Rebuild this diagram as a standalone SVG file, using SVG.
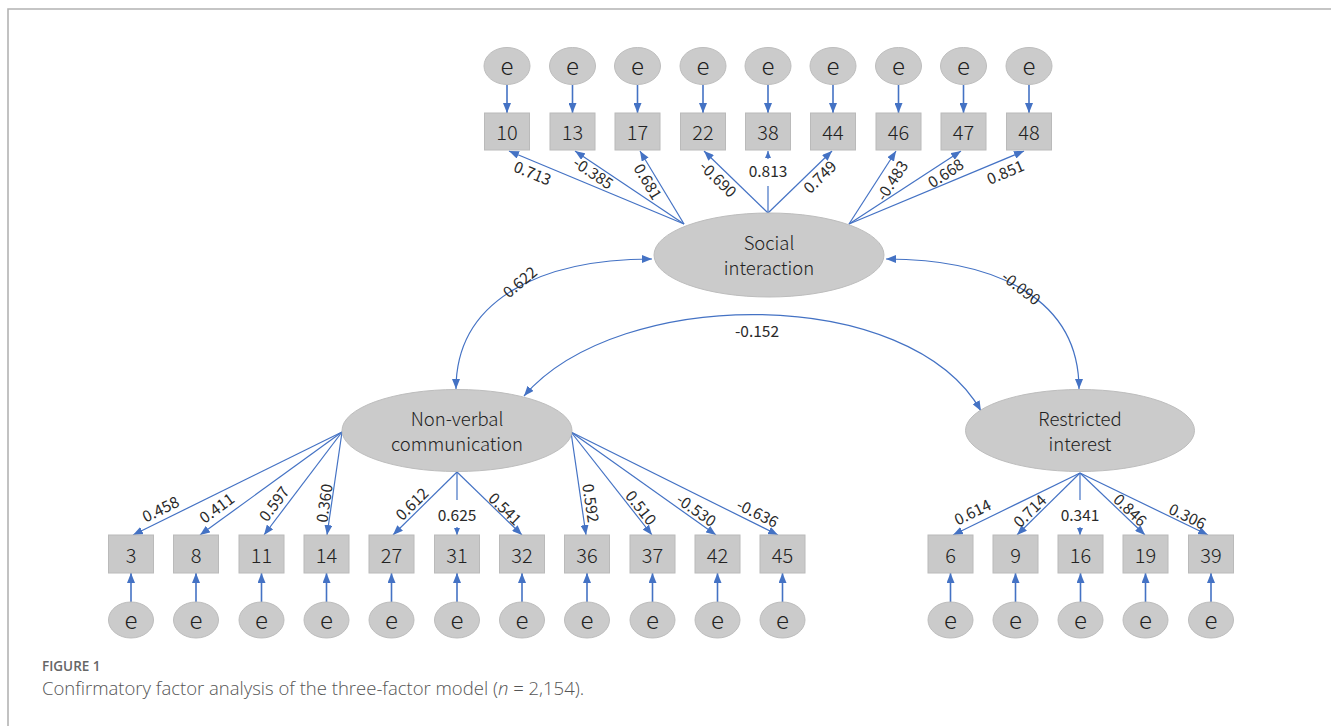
<svg xmlns="http://www.w3.org/2000/svg" width="1331" height="726" viewBox="0 0 1331 726">
<defs>
<marker id="ah" markerUnits="userSpaceOnUse" markerWidth="10" markerHeight="8" refX="10" refY="4" orient="auto-start-reverse" viewBox="0 0 10 8"><path d="M0,0 L10,4 L0,8 z" fill="#4472C4"/></marker>
<marker id="ahs" markerUnits="userSpaceOnUse" markerWidth="7" markerHeight="6" refX="7" refY="3" orient="auto" viewBox="0 0 7 6"><path d="M0,0 L7,3 L0,6 z" fill="#4472C4"/></marker>
</defs>
<style>
.frame{stroke:#b3b3b3;stroke-width:1.6;fill:none}
.box{fill:#c9c9c9;stroke:#bababa;stroke-width:1}
.err{fill:#cbcbcb;stroke:#bdbdbd;stroke-width:1}
.lat{fill:#cbcbcb;stroke:#bdbdbd;stroke-width:1}
.ln{stroke:#4472C4;stroke-width:1.2;fill:none;marker-end:url(#ah)}
.le{stroke:#4472C4;stroke-width:1.6;fill:none;marker-end:url(#ah)}
.ls{stroke:#4472C4;stroke-width:1.2;fill:none}
.lsa{stroke:#4472C4;stroke-width:1.2;fill:none;marker-end:url(#ahs)}
.cv{stroke:#4472C4;stroke-width:1.2;fill:none;marker-start:url(#ah);marker-end:url(#ah)}
text{font-family:"Noto Sans CJK JP","Noto Sans",sans-serif;font-weight:300;fill:#222;text-anchor:middle;dominant-baseline:central}
.bt{font-size:20px}
.et{font-size:24px}
.nt{font-size:18.5px}
.lb{font-size:15.5px;font-weight:400;fill:#2a2a2a}
.cap1{font-family:"Open Sans",sans-serif;font-size:13.5px;font-weight:600;fill:#666;text-anchor:start;dominant-baseline:auto}
.cap2{font-family:"Open Sans",sans-serif;font-size:18.5px;font-weight:300;fill:#555;text-anchor:start;dominant-baseline:auto}
</style>
<rect x="0" y="0" width="1331" height="726" fill="#fff"/>
<path class="frame" d="M8,726 L8,9 L1331,9"/>

<g id="connectors">
<line class="le" x1="507" y1="85" x2="507" y2="113"/>
<line class="le" x1="572.5" y1="85" x2="572.5" y2="113"/>
<line class="le" x1="637.5" y1="85" x2="637.5" y2="113"/>
<line class="le" x1="703" y1="85" x2="703" y2="113"/>
<line class="le" x1="768" y1="85" x2="768" y2="113"/>
<line class="le" x1="833" y1="85" x2="833" y2="113"/>
<line class="le" x1="898.5" y1="85" x2="898.5" y2="113"/>
<line class="le" x1="963.5" y1="85" x2="963.5" y2="113"/>
<line class="le" x1="1029" y1="85" x2="1029" y2="113"/>
<line class="le" x1="131" y1="602" x2="131" y2="573"/>
<line class="le" x1="196" y1="602" x2="196" y2="573"/>
<line class="le" x1="261.5" y1="602" x2="261.5" y2="573"/>
<line class="le" x1="326.5" y1="602" x2="326.5" y2="573"/>
<line class="le" x1="391.5" y1="602" x2="391.5" y2="573"/>
<line class="le" x1="457" y1="602" x2="457" y2="573"/>
<line class="le" x1="522" y1="602" x2="522" y2="573"/>
<line class="le" x1="587" y1="602" x2="587" y2="573"/>
<line class="le" x1="652.5" y1="602" x2="652.5" y2="573"/>
<line class="le" x1="717.5" y1="602" x2="717.5" y2="573"/>
<line class="le" x1="782.5" y1="602" x2="782.5" y2="573"/>
<line class="le" x1="950.5" y1="602" x2="950.5" y2="573"/>
<line class="le" x1="1015.5" y1="602" x2="1015.5" y2="573"/>
<line class="le" x1="1080.5" y1="602" x2="1080.5" y2="573"/>
<line class="le" x1="1145.5" y1="602" x2="1145.5" y2="573"/>
<line class="le" x1="1211" y1="602" x2="1211" y2="573"/>
<line class="ln" x1="684" y1="224" x2="509" y2="151"/>
<line class="ln" x1="684" y1="224" x2="575" y2="151"/>
<line class="ln" x1="684" y1="224" x2="640" y2="151"/>
<line class="ln" x1="768" y1="213" x2="704" y2="151"/>
<line class="ls" x1="768" y1="213" x2="768" y2="186"/>
<line class="lsa" x1="768" y1="159" x2="768" y2="151"/>
<line class="ln" x1="768" y1="213" x2="832" y2="151"/>
<line class="ln" x1="849" y1="224" x2="896" y2="151"/>
<line class="ln" x1="849" y1="224" x2="961" y2="151"/>
<line class="ln" x1="849" y1="224" x2="1024" y2="151"/>
<line class="ln" x1="342" y1="432" x2="133" y2="535"/>
<line class="ln" x1="342" y1="432" x2="200" y2="535"/>
<line class="ln" x1="342" y1="432" x2="264" y2="535"/>
<line class="ln" x1="342" y1="432" x2="327" y2="535"/>
<line class="ln" x1="457" y1="472" x2="393" y2="535"/>
<line class="ls" x1="457" y1="472" x2="457" y2="500"/>
<line class="lsa" x1="457" y1="527" x2="457" y2="535"/>
<line class="ln" x1="457" y1="472" x2="522" y2="535"/>
<line class="ln" x1="571" y1="432" x2="586" y2="535"/>
<line class="ln" x1="571" y1="432" x2="652" y2="535"/>
<line class="ln" x1="571" y1="432" x2="716" y2="535"/>
<line class="ln" x1="571" y1="432" x2="778" y2="535"/>
<line class="ln" x1="1080" y1="473" x2="953" y2="535"/>
<line class="ln" x1="1080" y1="473" x2="1017" y2="535"/>
<line class="ls" x1="1080" y1="473" x2="1080" y2="500"/>
<line class="lsa" x1="1080" y1="527" x2="1080" y2="535"/>
<line class="ln" x1="1080" y1="473" x2="1145" y2="535"/>
<line class="ln" x1="1080" y1="473" x2="1208" y2="535"/>
<path class="cv" d="M456,389 C456,300 540,259 652,259"/>
<path class="cv" d="M886,259 C998,259 1079,300 1079,389"/>
<path class="cv" d="M524,396 C620,285 910,285 981,411"/>
</g>

<g id="labels">
<text class="lb" transform="translate(533,172) rotate(22.6)">0.713</text>
<text class="lb" transform="translate(594,172) rotate(33.8)">-0.385</text>
<text class="lb" transform="translate(649,181) rotate(58.9)">0.681</text>
<text class="lb" transform="translate(719,178) rotate(44.1)">-0.690</text>
<text class="lb" x="768" y="170">0.813</text>
<text class="lb" transform="translate(819,176) rotate(-44.1)">0.749</text>
<text class="lb" transform="translate(891,180) rotate(-57.2)">-0.483</text>
<text class="lb" transform="translate(945,172) rotate(-33.1)">0.668</text>
<text class="lb" transform="translate(1005,171) rotate(-22.6)">0.851</text>
<text class="lb" transform="translate(160,508) rotate(-26.2)">0.458</text>
<text class="lb" transform="translate(216,507) rotate(-36)">0.411</text>
<text class="lb" transform="translate(273,503) rotate(-52.9)">0.597</text>
<text class="lb" transform="translate(323,503) rotate(-81.7)">0.360</text>
<text class="lb" transform="translate(411,503) rotate(-44.6)">0.612</text>
<text class="lb" x="457" y="514">0.625</text>
<text class="lb" transform="translate(506,508) rotate(44.1)">0.541</text>
<text class="lb" transform="translate(592,503) rotate(81.7)">0.592</text>
<text class="lb" transform="translate(642,507) rotate(51.8)">0.510</text>
<text class="lb" transform="translate(697,509) rotate(35.4)">-0.530</text>
<text class="lb" transform="translate(758,512) rotate(26.5)">-0.636</text>
<text class="lb" transform="translate(972,511) rotate(-26)">0.614</text>
<text class="lb" transform="translate(1029,510) rotate(-44.5)">0.714</text>
<text class="lb" x="1080" y="514">0.341</text>
<text class="lb" transform="translate(1131,509) rotate(43.6)">0.846</text>
<text class="lb" transform="translate(1188,515) rotate(25.8)">0.306</text>
<text class="lb" transform="translate(519,281) rotate(-40)">0.622</text>
<text class="lb" transform="translate(1022,287) rotate(38)">-0.090</text>
<text class="lb" x="757" y="330">-0.152</text>
</g>

<g id="social"><ellipse class="lat" cx="769" cy="255" rx="115" ry="42"/><text class="nt" x="769" y="241.5">Social</text><text class="nt" x="769" y="267">interaction</text></g>
<g id="nonverbal"><ellipse class="lat" cx="457" cy="430.5" rx="115" ry="41"/><text class="nt" x="457" y="418">Non-verbal</text><text class="nt" x="457" y="443">communication</text></g>
<g id="restricted"><ellipse class="lat" cx="1080" cy="430.5" rx="114.5" ry="41"/><text class="nt" x="1080" y="418">Restricted</text><text class="nt" x="1080" y="443">interest</text></g>

<g id="item10"><rect class="box" x="484.5" y="113" width="45" height="37"/><text class="bt" x="507" y="131.5">10</text></g>
<g id="item13"><rect class="box" x="550" y="113" width="45" height="37"/><text class="bt" x="572.5" y="131.5">13</text></g>
<g id="item17"><rect class="box" x="615" y="113" width="45" height="37"/><text class="bt" x="637.5" y="131.5">17</text></g>
<g id="item22"><rect class="box" x="680.5" y="113" width="45" height="37"/><text class="bt" x="703" y="131.5">22</text></g>
<g id="item38"><rect class="box" x="745.5" y="113" width="45" height="37"/><text class="bt" x="768" y="131.5">38</text></g>
<g id="item44"><rect class="box" x="810.5" y="113" width="45" height="37"/><text class="bt" x="833" y="131.5">44</text></g>
<g id="item46"><rect class="box" x="876" y="113" width="45" height="37"/><text class="bt" x="898.5" y="131.5">46</text></g>
<g id="item47"><rect class="box" x="941" y="113" width="45" height="37"/><text class="bt" x="963.5" y="131.5">47</text></g>
<g id="item48"><rect class="box" x="1006.5" y="113" width="45" height="37"/><text class="bt" x="1029" y="131.5">48</text></g>

<g id="e10"><ellipse class="err" cx="507" cy="66" rx="23" ry="18.5"/><text class="et" x="507" y="64.5">e</text></g>
<g id="e13"><ellipse class="err" cx="572.5" cy="66" rx="23" ry="18.5"/><text class="et" x="572.5" y="64.5">e</text></g>
<g id="e17"><ellipse class="err" cx="637.5" cy="66" rx="23" ry="18.5"/><text class="et" x="637.5" y="64.5">e</text></g>
<g id="e22"><ellipse class="err" cx="703" cy="66" rx="23" ry="18.5"/><text class="et" x="703" y="64.5">e</text></g>
<g id="e38"><ellipse class="err" cx="768" cy="66" rx="23" ry="18.5"/><text class="et" x="768" y="64.5">e</text></g>
<g id="e44"><ellipse class="err" cx="833" cy="66" rx="23" ry="18.5"/><text class="et" x="833" y="64.5">e</text></g>
<g id="e46"><ellipse class="err" cx="898.5" cy="66" rx="23" ry="18.5"/><text class="et" x="898.5" y="64.5">e</text></g>
<g id="e47"><ellipse class="err" cx="963.5" cy="66" rx="23" ry="18.5"/><text class="et" x="963.5" y="64.5">e</text></g>
<g id="e48"><ellipse class="err" cx="1029" cy="66" rx="23" ry="18.5"/><text class="et" x="1029" y="64.5">e</text></g>

<g id="item3"><rect class="box" x="108.5" y="535" width="45" height="38"/><text class="bt" x="131" y="554">3</text></g>
<g id="item8"><rect class="box" x="173.5" y="535" width="45" height="38"/><text class="bt" x="196" y="554">8</text></g>
<g id="item11"><rect class="box" x="239" y="535" width="45" height="38"/><text class="bt" x="261.5" y="554">11</text></g>
<g id="item14"><rect class="box" x="304" y="535" width="45" height="38"/><text class="bt" x="326.5" y="554">14</text></g>
<g id="item27"><rect class="box" x="369" y="535" width="45" height="38"/><text class="bt" x="391.5" y="554">27</text></g>
<g id="item31"><rect class="box" x="434.5" y="535" width="45" height="38"/><text class="bt" x="457" y="554">31</text></g>
<g id="item32"><rect class="box" x="499.5" y="535" width="45" height="38"/><text class="bt" x="522" y="554">32</text></g>
<g id="item36"><rect class="box" x="564.5" y="535" width="45" height="38"/><text class="bt" x="587" y="554">36</text></g>
<g id="item37"><rect class="box" x="630" y="535" width="45" height="38"/><text class="bt" x="652.5" y="554">37</text></g>
<g id="item42"><rect class="box" x="695" y="535" width="45" height="38"/><text class="bt" x="717.5" y="554">42</text></g>
<g id="item45"><rect class="box" x="760" y="535" width="45" height="38"/><text class="bt" x="782.5" y="554">45</text></g>
<g id="item6"><rect class="box" x="928" y="535" width="45" height="38"/><text class="bt" x="950.5" y="554">6</text></g>
<g id="item9"><rect class="box" x="993" y="535" width="45" height="38"/><text class="bt" x="1015.5" y="554">9</text></g>
<g id="item16"><rect class="box" x="1058" y="535" width="45" height="38"/><text class="bt" x="1080.5" y="554">16</text></g>
<g id="item19"><rect class="box" x="1123" y="535" width="45" height="38"/><text class="bt" x="1145.5" y="554">19</text></g>
<g id="item39"><rect class="box" x="1188.5" y="535" width="45" height="38"/><text class="bt" x="1211" y="554">39</text></g>

<g id="e3"><ellipse class="err" cx="131" cy="620" rx="22.5" ry="18"/><text class="et" x="131" y="618.5">e</text></g>
<g id="e8"><ellipse class="err" cx="196" cy="620" rx="22.5" ry="18"/><text class="et" x="196" y="618.5">e</text></g>
<g id="e11"><ellipse class="err" cx="261.5" cy="620" rx="22.5" ry="18"/><text class="et" x="261.5" y="618.5">e</text></g>
<g id="e14"><ellipse class="err" cx="326.5" cy="620" rx="22.5" ry="18"/><text class="et" x="326.5" y="618.5">e</text></g>
<g id="e27"><ellipse class="err" cx="391.5" cy="620" rx="22.5" ry="18"/><text class="et" x="391.5" y="618.5">e</text></g>
<g id="e31"><ellipse class="err" cx="457" cy="620" rx="22.5" ry="18"/><text class="et" x="457" y="618.5">e</text></g>
<g id="e32"><ellipse class="err" cx="522" cy="620" rx="22.5" ry="18"/><text class="et" x="522" y="618.5">e</text></g>
<g id="e36"><ellipse class="err" cx="587" cy="620" rx="22.5" ry="18"/><text class="et" x="587" y="618.5">e</text></g>
<g id="e37"><ellipse class="err" cx="652.5" cy="620" rx="22.5" ry="18"/><text class="et" x="652.5" y="618.5">e</text></g>
<g id="e42"><ellipse class="err" cx="717.5" cy="620" rx="22.5" ry="18"/><text class="et" x="717.5" y="618.5">e</text></g>
<g id="e45"><ellipse class="err" cx="782.5" cy="620" rx="22.5" ry="18"/><text class="et" x="782.5" y="618.5">e</text></g>
<g id="e6"><ellipse class="err" cx="950.5" cy="620" rx="22.5" ry="18"/><text class="et" x="950.5" y="618.5">e</text></g>
<g id="e9"><ellipse class="err" cx="1015.5" cy="620" rx="22.5" ry="18"/><text class="et" x="1015.5" y="618.5">e</text></g>
<g id="e16"><ellipse class="err" cx="1080.5" cy="620" rx="22.5" ry="18"/><text class="et" x="1080.5" y="618.5">e</text></g>
<g id="e19"><ellipse class="err" cx="1145.5" cy="620" rx="22.5" ry="18"/><text class="et" x="1145.5" y="618.5">e</text></g>
<g id="e39"><ellipse class="err" cx="1211" cy="620" rx="22.5" ry="18"/><text class="et" x="1211" y="618.5">e</text></g>

<g id="caption">
<text class="cap1" x="42" y="671">FIGURE 1</text>
<text class="cap2" x="42" y="695">Confirmatory factor analysis of the three-factor model (<tspan font-style="italic">n</tspan> = 2,154).</text>
</g>
</svg>
